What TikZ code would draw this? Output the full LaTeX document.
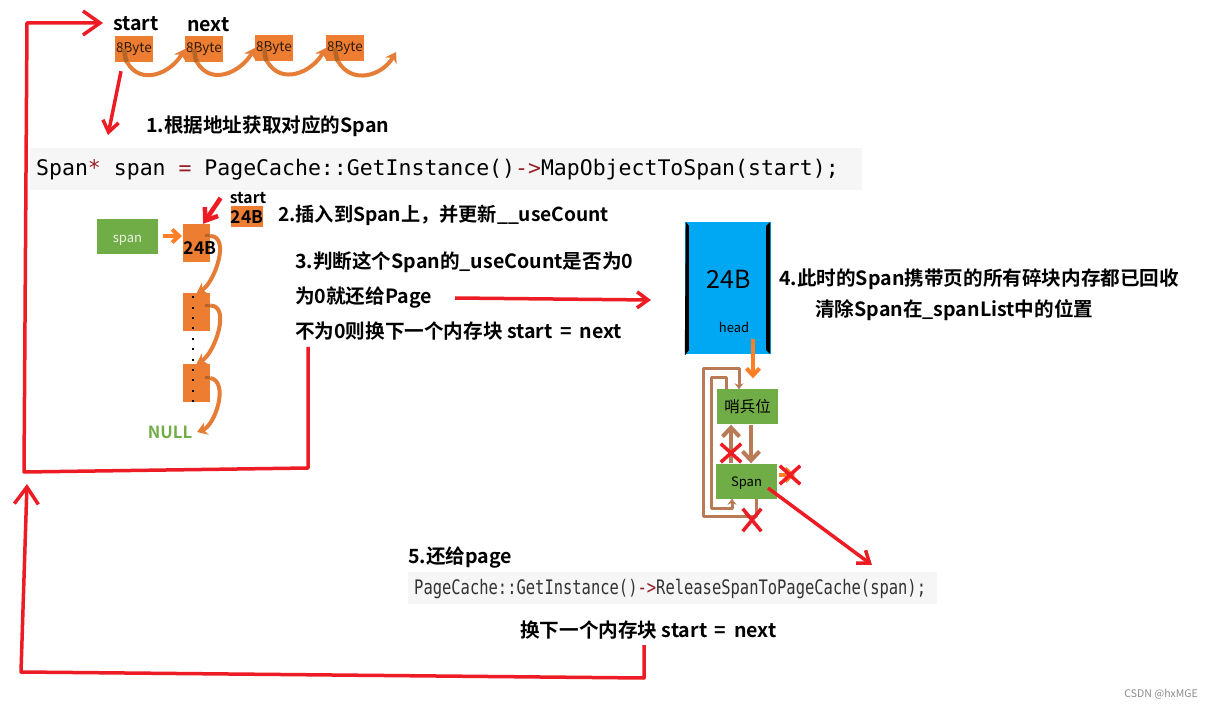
\documentclass[tikz,border=0pt]{standalone}
\usepackage{fontspec}
\setmainfont{Noto Sans CJK SC}[BoldFont={Noto Sans CJK SC Bold}]
\setmonofont{DejaVu Sans Mono}
\newfontfamily\narrowcode[FakeStretch=0.773]{DejaVu Sans Mono}
\usepackage{xcolor}
\usetikzlibrary{arrows.meta,shapes.misc}
\definecolor{lnred}{RGB}{237,28,36}
\definecolor{lnorange}{RGB}{237,125,49}
\definecolor{lndark}{RGB}{181,101,38}
\definecolor{lnbright}{RGB}{255,127,39}
\definecolor{lnbrown}{RGB}{185,122,87}
\definecolor{lngreen}{RGB}{112,173,71}
\definecolor{lnblue}{RGB}{0,168,243}
\definecolor{lncode}{RGB}{246,246,246}
\definecolor{lnkey}{RGB}{150,30,40}
\tikzstyle{redline} = [line width=3.5pt,color=lnred,line join=round]
\tikzstyle{bigarrow} = [redline,-{Straight Barb[length=17pt,width=24pt]}]
\tikzstyle{redarrow} = [redline,-{Straight Barb[length=11pt,width=16pt]}]
\tikzstyle{curl} = [line width=4pt,color=lnorange!85!lnbrown,-{Stealth[length=10pt,width=13pt]}]
\tikzstyle{curlstart} = [line width=4.5pt,color=lndark]
\tikzstyle{brownline} = [line width=3pt,color=lnbrown,line join=round,-{Stealth[length=6pt,width=9pt]}]
\tikzstyle{brownthick} = [line width=4pt,color=lnbrown,-{Straight Barb[length=9pt,width=17pt]}]
\tikzstyle{orangearrow} = [line width=4pt,color=lnbright,-{Straight Barb[length=7pt,width=13pt]}]
\tikzstyle{byteblock} = [rectangle,fill=lnorange,minimum width=38pt,minimum height=26pt,inner sep=0pt,text=black!75!lndark,font=\fontsize{13.5}{16}\selectfont]
\tikzstyle{listblock} = [rectangle,fill=lnorange,minimum width=27pt,minimum height=38pt,inner sep=0pt]
\tikzstyle{greenblock} = [rectangle,fill=lngreen,inner sep=0pt,text height=11pt,text depth=0pt,font=\fontsize{13}{16}\selectfont]
\tikzstyle{steplabel} = [anchor=west,inner sep=0pt,text height=16pt,text depth=2pt,font=\fontsize{19.6}{23}\selectfont\bfseries]
\tikzstyle{smallbold} = [inner sep=0pt,font=\fontsize{15.7}{18}\selectfont\bfseries]
\tikzstyle{sizelabel} = [inner sep=0pt,font=\fontsize{17.5}{20}\selectfont\bfseries]
\tikzstyle{codeback} = [rectangle,fill=lncode,inner sep=0pt]
\tikzstyle{redcross} = [cross out,draw=lnred,line width=3.5pt,minimum width=17pt,minimum height=15pt,inner sep=0pt]
\begin{document}
\begin{tikzpicture}[x=1pt,y=-1pt]
\useasboundingbox (0,0) rectangle (1213,708);

% Top list
\node (startlabel) [steplabel] at (113,24) {start};
\node (nextlabel) [steplabel] at (187,25) {next};
\node (byte1) [byteblock] at (134,49) {8Byte};
\node (byte2) [byteblock] at (204,49) {8Byte};
\node (byte3) [byteblock] at (274,48) {8Byte};
\node (byte4) [byteblock] at (345,48) {8Byte};
\coordinate (bytetail) at (396,52);
\draw[curlstart] ([xshift=-10pt]byte1.center) to[out=-75,in=120] ([xshift=-7pt]byte1.south);
\draw[curlstart] ([xshift=-10pt]byte2.center) to[out=-75,in=120] ([xshift=-7pt]byte2.south);
\draw[curlstart] ([xshift=-10pt]byte3.center) to[out=-75,in=120] ([xshift=-7pt]byte3.south);
\draw[curlstart] ([xshift=-10pt]byte4.center) to[out=-75,in=120] ([xshift=-7pt]byte4.south);
\draw[curl] ([xshift=-7pt]byte1.south) to[out=-60,in=-120,looseness=1.2] (byte2.west);
\draw[curl] ([xshift=-7pt]byte2.south) to[out=-60,in=-120,looseness=1.2] (byte3.west);
\draw[curl] ([xshift=-7pt]byte3.south) to[out=-60,in=-120,looseness=1.2] (byte4.west);
\draw[curl] ([xshift=-7pt]byte4.south) to[out=-60,in=-120,looseness=1.2] (bytetail);

% Step 1
\node (step1) [steplabel] at (146,126) {1.根据地址获取对应的Span};
\node (code1) [codeback,minimum width=832pt,minimum height=42pt] at (446,169) {};
\node (code1text) [anchor=west,inner sep=0pt,font=\fontsize{21.5}{26}\ttfamily] at (36,170) {Span\textcolor{lnkey}{*} span \textcolor{lnkey}{=} PageCache::GetInstance()\textcolor{lnkey}{->}MapObjectToSpan(start);};
\coordinate (step1tip) at (108,135);
\draw[redarrow] (byte1.south) ++(-13,9) -- (step1tip);

% Step 2
\node (spanhead) [greenblock,minimum width=61pt,minimum height=35pt,text=white!85!lngreen] at (127.5,237) {span};
\node (list1) [listblock] at (196.5,243) {};
\node (list2) [listblock] at (196.5,312.5) {};
\node (list3) [listblock] at (196.5,383) {};
\node (list1text) [sizelabel] at (200,248) {24B};
\coordinate (nulltip) at (197,432);
\node (nulllabel) [smallbold,text=lngreen,font=\fontsize{16.7}{20}\selectfont\bfseries] at (170,432) {NULL};
\node (smallstart) [smallbold] at (248,198) {start};
\node (smallblock) [rectangle,fill=lnorange,minimum width=32pt,minimum height=21pt,inner sep=0pt,font=\fontsize{17.5}{20}\selectfont\bfseries] at (247,217) {24B};
\node (step2) [steplabel,font=\fontsize{19.2}{23}\selectfont\bfseries] at (278,215) {2.插入到Span上，并更新\_\_useCount};
\draw[curl] ([yshift=7pt]list1.east) to[out=0,in=30,looseness=0.9] (list2.north);
\draw[curl] ([yshift=7pt]list2.east) to[out=0,in=30,looseness=0.9] (list3.north);
\draw[curl] ([yshift=5pt]list3.east) to[out=-10,in=20,looseness=0.9] (nulltip);
\draw[curlstart,line width=3pt] ([xshift=-5pt,yshift=7pt]list1.east) -- ([yshift=7pt]list1.east);
\draw[curlstart,line width=3pt] ([xshift=-5pt,yshift=7pt]list2.east) -- ([yshift=7pt]list2.east);
\draw[curlstart,line width=3pt] ([xshift=-5pt,yshift=5pt]list3.east) -- ([yshift=5pt]list3.east);
\coordinate (listtip) at (182,236);
\draw[orangearrow] (spanhead.east) ++(5,-1) -- (listtip);
\draw[redarrow,line width=4.5pt] (smallstart.west) ++(-9,0) -- ([xshift=-7pt]list1.north east);
\draw[line width=2pt,dash pattern=on 2pt off 8.4pt] (list2.north) ++(-3.5,3) -- ([xshift=-3.5pt,yshift=-3pt]list3.south);

% Step 3
\node (step3a) [steplabel] at (295,262) {3.判断这个Span的\_useCount是否为0};
\node (step3b) [steplabel] at (295,297) {为0就还给Page};
\node (step3c) [steplabel] at (295,332) {不为0则换下一个内存块 start\, = \,next};
\coordinate (pagetip) at (651,300);
\coordinate (pagestart) at (455,298);
\draw[redarrow] (pagestart) -- (pagetip);
\coordinate (looptop) at (308,347);
\coordinate (looptopb) at (308,468);
\coordinate (looptopc) at (24,472);
\coordinate (looptopd) at (27,23);
\coordinate (looptope) at (103,23);
\draw[bigarrow] (looptop) -- (looptopb) -- (looptopc) -- (looptopd) -- (looptope);

% Step 4
\node (headbox) [rectangle,fill=lnblue,minimum width=86pt,minimum height=132pt,inner sep=0pt] at (728,288) {};
\fill[black] ([xshift=1pt]headbox.north west) -- ([xshift=4pt,yshift=-4pt]headbox.north west) -- ([xshift=4pt,yshift=4pt]headbox.south west) -- ([xshift=1pt]headbox.south west) -- ([xshift=0pt,yshift=-1pt]headbox.south west) -- cycle;
\fill[black] ([xshift=-1pt]headbox.north east) -- ([xshift=-5pt,yshift=-4pt]headbox.north east) -- ([xshift=-5pt,yshift=4pt]headbox.south east) -- ([xshift=-1pt]headbox.south east) -- cycle;
\node (size24) [inner sep=0pt,font=\fontsize{25}{30}\selectfont] at (729,279) {24B};
\node (headlabel) [inner sep=0pt,font=\fontsize{13}{16}\selectfont] at (734,327) {head};
\node (step4a) [steplabel] at (779,279) {4.此时的Span携带页的所有碎块内存都已回收};
\node (step4b) [steplabel] at (815,310) {清除Span在\_spanList中的位置};
\node (guard) [greenblock,minimum width=61pt,minimum height=35pt,font=\fontsize{15.5}{18}\selectfont] at (747.5,407) {哨兵位};
\node (spannode) [greenblock,minimum width=61pt,minimum height=35pt] at (746.5,481) {Span};
\coordinate (headstart) at (753,339);
\draw[orangearrow] (headstart) -- ([xshift=5.5pt,yshift=11pt]guard.north);
\draw[brownthick] ([xshift=3.5pt]guard.south) -- ([xshift=4.5pt]spannode.north);
\draw[brownthick] ([xshift=-15.5pt]spannode.north) -- ([xshift=-16.5pt]guard.south);
\coordinate (outera) at (703,516);
\coordinate (outerb) at (703,369);
\coordinate (outerc) at (739,369);
\coordinate (outerd) at (756,516);
\draw[brownline] (outerd |- spannode.south) -- (outerd) -- (outera) -- (outerb) -- (outerc) -- (outerc |- guard.north);
\coordinate (innera) at (726,378);
\coordinate (innerb) at (711,378);
\coordinate (innerc) at (711,508);
\coordinate (innerd) at (732,508);
\draw[brownline] (innera |- guard.north) -- (innera) -- (innerb) -- (innerc) -- (innerd) -- (innerd |- spannode.south);
\coordinate (stubstart) at (779,475);
\coordinate (stubend) at (795,475);
\draw[orangearrow] (stubstart) -- (stubend);
\node (crossa) [redcross] at (731,453) {};
\node (crossb) [redcross] at (790,475) {};
\node (crossc) [redcross,minimum width=15pt,minimum height=19pt] at (752,520) {};
\coordinate (spanstart) at (768,488);
\coordinate (spantip) at (872,565);
\draw[redarrow] (spanstart) -- (spantip);

% Step 5
\node (step5) [steplabel] at (408,556) {5.还给page};
\node (code2) [codeback,minimum width=529pt,minimum height=32pt] at (672.5,588) {};
\node (code2text) [anchor=west,inner sep=0pt,text=black!80,font=\fontsize{20}{24}\narrowcode] at (414,589) {PageCache::GetInstance()\textcolor{lnkey}{->}ReleaseSpanToPageCache(span);};
\node (stepnext) [steplabel] at (520,630) {换下一个内存块 start\, = \,next};
\coordinate (loopbot) at (644,645);
\coordinate (loopbotb) at (644,678);
\coordinate (loopbotc) at (21,672);
\coordinate (loopbotd) at (27,484);
\draw[bigarrow] (loopbot) -- (loopbotb) -- (loopbotc) -- (loopbotd);

% Watermark
\node (mark) [anchor=east,inner sep=0pt,text=black!45,font=\fontsize{10.5}{12}\selectfont] at (1198,694) {CSDN @hxMGE};
\end{tikzpicture}
\end{document}
